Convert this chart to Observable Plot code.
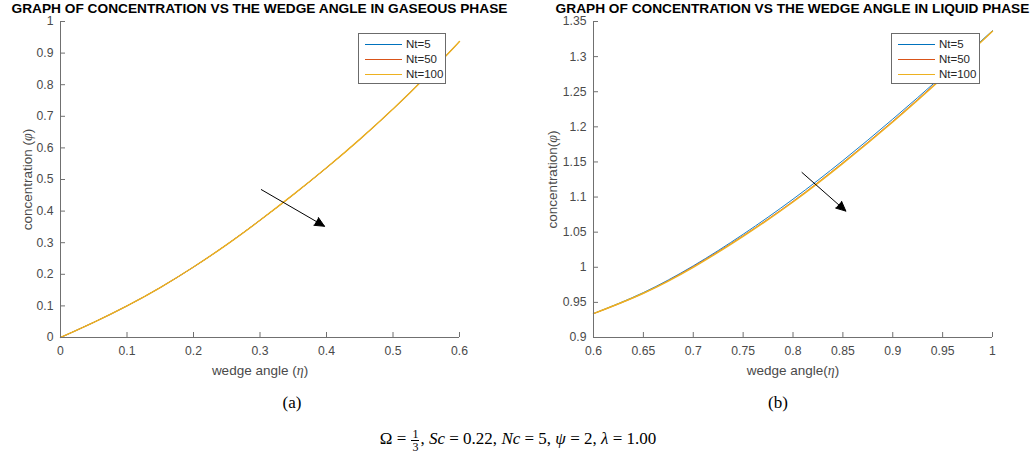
<!DOCTYPE html>
<html>
<head>
<meta charset="utf-8">
<script src="https://cdn.jsdelivr.net/npm/d3@7"></script>
<script src="https://cdn.jsdelivr.net/npm/@observablehq/plot@0.6"></script>
<style>
  body { margin: 0; background: #fff; }
  #fig { position: relative; width: 1035px; height: 463px; background: #fff; overflow: hidden;
         font-family: "Liberation Sans", Arial, sans-serif; }
  .title { position: absolute; top: 3px; font-weight: bold; font-size: 13.7px; line-height: 12px;
           color: #000; text-align: center; white-space: nowrap; z-index: 2; }
  .legend { position: absolute; background: #fff; border: 1px solid #6b6b6b; box-sizing: border-box; z-index: 2; }
  .legend .sw { position: absolute; left: 6px; width: 37px; height: 1px; }
  .legend .lt { position: absolute; left: 47px; font-size: 11.5px; line-height: 12px; color: #262626; }
  .cap { position: absolute; font-family: "Liberation Serif", serif; font-size: 17px; color: #000;
         text-align: center; white-space: nowrap; }
  .frac { display: inline-block; vertical-align: middle; text-align: center; font-size: 12px; line-height: 12px; margin: 0 1px; }
  .frac span { display: block; padding: 0 1px; }
  .frac span.num { border-bottom: 1px solid #000; }
</style>
</head>
<body>
<div id="fig"></div>
<script>
// ---------- data ----------
const seriesNames = ["Nt=5", "Nt=50", "Nt=100"];
const seriesColors = ["#0072BD", "#D95319", "#EDB120"];

// (a) gaseous phase
const gasEta    = [0, 0.05, 0.1, 0.15, 0.2, 0.25, 0.3, 0.35, 0.4, 0.45, 0.5, 0.55, 0.6];
const gasNt5    = [0, 0.048, 0.100, 0.158, 0.223, 0.294, 0.371, 0.452, 0.537, 0.627, 0.723, 0.826, 0.937];
const gasNt50   = [0, 0.048, 0.100, 0.158, 0.223, 0.294, 0.371, 0.452, 0.537, 0.627, 0.723, 0.826, 0.937];
const gasNt100  = [0, 0.048, 0.100, 0.158, 0.223, 0.294, 0.371, 0.452, 0.537, 0.627, 0.723, 0.826, 0.937];

// (b) liquid phase
const liqEta    = [0.6, 0.65, 0.7, 0.75, 0.8, 0.85, 0.9, 0.95, 1.0];
const liqNt5    = [0.934, 0.964, 1.002, 1.047, 1.097, 1.152, 1.211, 1.273, 1.337];
const liqNt50   = [0.934, 0.963, 1.001, 1.045, 1.094, 1.149, 1.208, 1.271, 1.336];
const liqNt100  = [0.934, 0.963, 1.000, 1.044, 1.093, 1.148, 1.207, 1.270, 1.336];

// ticks
const gasXTicks = [0, 0.1, 0.2, 0.3, 0.4, 0.5, 0.6];
const gasYTicks = [0, 0.1, 0.2, 0.3, 0.4, 0.5, 0.6, 0.7, 0.8, 0.9, 1];
const liqXTicks = [0.6, 0.65, 0.7, 0.75, 0.8, 0.85, 0.9, 0.95, 1];
const liqYTicks = [0.9, 0.95, 1, 1.05, 1.1, 1.15, 1.2, 1.25, 1.3, 1.35];

// annotation arrows (data coordinates)
const gasArrow = [{x1: 0.302, y1: 0.468, x2: 0.397, y2: 0.352}];
const liqArrow = [{x1: 0.809, y1: 1.135, x2: 0.853, y2: 1.080}];

// texts
const titles = ["GRAPH OF CONCENTRATION VS THE WEDGE ANGLE IN GASEOUS PHASE",
                "GRAPH OF CONCENTRATION VS THE WEDGE ANGLE IN LIQUID PHASE"];
const xLabels = ["wedge angle (η)", "wedge angle(η)"];
const yLabels = ["concentration (φ)", "concentration(φ)"];
const subCaptions = ["(a)", "(b)"];

// ---------- drawing ----------
const fig = document.getElementById("fig");
const fmt = d => String(+d.toFixed(2));
const axisColor = "#707070";

function rowsOf(eta, vals) {
  return vals.map((v, j) => ({eta: eta[j], phi: v}));
}

function italicize(svg, label) {
  svg.querySelectorAll("text").forEach(t => {
    if (t.textContent === label) {
      const m = label.match(/^(.*)([φη])(\)?)$/);
      if (m) t.innerHTML = `${m[1]}<tspan font-family="Liberation Serif, serif" font-style="italic" font-size="14">${m[2]}</tspan>${m[3]}`;
    }
  });
}

function panel({left, width, marginLeft, marginRight, eta, series, xDomain, yDomain, xTicks, yTicks, xLabel, yLabel, yLabelDx, arrow}) {
  const svg = Plot.plot({
    width, height: 385,
    marginTop: 21, marginBottom: 48, marginLeft, marginRight,
    style: {fontFamily: "Liberation Sans, Arial, sans-serif", fontSize: "12.2px", color: "#4a4a4a", background: "transparent", overflow: "visible"},
    x: {domain: xDomain, axis: null},
    y: {domain: yDomain, axis: null},
    marks: [
      ...series.map((vals, i) => Plot.line(rowsOf(eta, vals), {x: "eta", y: "phi", stroke: seriesColors[i], curve: "natural", strokeWidth: i === 2 ? 1.4 : 0.9})),
      Plot.ruleX([xDomain[0]], {stroke: axisColor, strokeWidth: 1}),
      Plot.ruleY([yDomain[0]], {stroke: axisColor, strokeWidth: 1}),
      Plot.axisX(xTicks, {anchor: "bottom", tickSize: -5, tickPadding: 14, tickFormat: fmt, stroke: axisColor, label: null}),
      Plot.axisY(yTicks, {anchor: "left", tickSize: -5, tickPadding: 12, tickFormat: fmt, stroke: axisColor, label: null}),
      Plot.text([xLabel], {frameAnchor: "bottom", textAnchor: "middle", lineAnchor: "middle", dy: 33, fontSize: 13.5, text: d => d}),
      Plot.text([yLabel], {frameAnchor: "left", textAnchor: "middle", lineAnchor: "middle", dx: yLabelDx, rotate: -90, fontSize: 13.5, text: d => d}),
      Plot.arrow(arrow, {x1: "x1", y1: "y1", x2: "x2", y2: "y2", stroke: "#000", strokeWidth: 1, headLength: 16, headAngle: 50})
    ]
  });
  svg.querySelectorAll('g[aria-label="arrow"] path').forEach(p => p.setAttribute("fill", "#000"));
  italicize(svg, xLabel);
  italicize(svg, yLabel);
  svg.style.position = "absolute";
  svg.style.left = left + "px";
  svg.style.top = "0px";
  fig.appendChild(svg);
}

panel({left: 0, width: 517, marginLeft: 60, marginRight: 58,
       eta: gasEta, series: [gasNt5, gasNt50, gasNt100],
       xDomain: [0, 0.6], yDomain: [0, 1], xTicks: gasXTicks, yTicks: gasYTicks,
       xLabel: xLabels[0], yLabel: yLabels[0], yLabelDx: -33, arrow: gasArrow});
panel({left: 517, width: 518, marginLeft: 76, marginRight: 43,
       eta: liqEta, series: [liqNt5, liqNt50, liqNt100],
       xDomain: [0.6, 1], yDomain: [0.9, 1.35], xTicks: liqXTicks, yTicks: liqYTicks,
       xLabel: xLabels[1], yLabel: yLabels[1], yLabelDx: -41, arrow: liqArrow});

// titles
[[0, 519], [517, 551]].forEach(([l, w], i) => {
  const d = document.createElement("div");
  d.className = "title";
  d.style.left = l + "px"; d.style.width = w + "px";
  d.textContent = titles[i];
  fig.appendChild(d);
});

// legends
[[358, 88], [891, 89]].forEach(([l, w]) => {
  const lg = document.createElement("div");
  lg.className = "legend";
  lg.style.left = l + "px"; lg.style.top = "33px";
  lg.style.width = w + "px"; lg.style.height = "51px";
  seriesNames.forEach((name, i) => {
    const cy = [10, 25, 40][i];
    const sw = document.createElement("div");
    sw.className = "sw"; sw.style.top = cy + "px"; sw.style.backgroundColor = seriesColors[i];
    const lt = document.createElement("div");
    lt.className = "lt"; lt.style.top = (cy - 6) + "px"; lt.textContent = name;
    lg.appendChild(sw); lg.appendChild(lt);
  });
  fig.appendChild(lg);
});

// sub-captions
[[292, 403], [778, 403]].forEach(([cx, cy], i) => {
  const d = document.createElement("div");
  d.className = "cap";
  d.style.left = (cx - 30) + "px"; d.style.width = "60px"; d.style.top = (cy - 10) + "px";
  d.textContent = subCaptions[i];
  fig.appendChild(d);
});

// parameter line
const f = document.createElement("div");
f.className = "cap";
f.style.left = "318px"; f.style.width = "400px"; f.style.top = "428px";
f.innerHTML = 'Ω = <span class="frac"><span class="num">1</span><span>3</span></span>, <i>Sc</i> = 0.22, <i>Nc</i> = 5, <i>ψ</i> = 2, <i>λ</i> = 1.00';
fig.appendChild(f);
</script>
</body>
</html>
